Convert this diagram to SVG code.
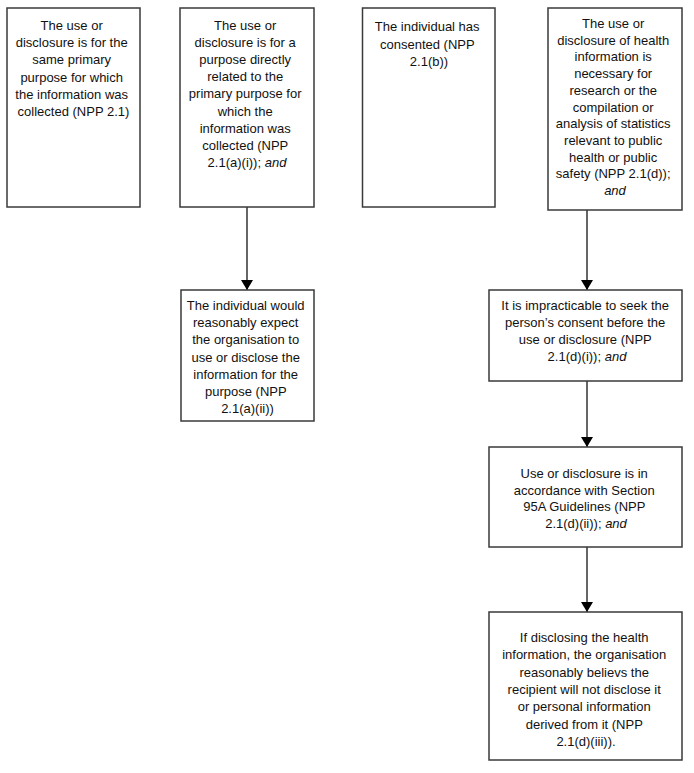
<svg xmlns="http://www.w3.org/2000/svg" width="694" height="773" viewBox="0 0 694 773">
<defs>
<style>
.box{fill:#fff;stroke:#3a3a3a;stroke-width:1.5}
.t{font-family:"Liberation Sans",Arial,sans-serif;font-size:13px;fill:#111;text-anchor:middle}
.i{font-style:italic}
.c{stroke:#666;stroke-width:2;fill:none}
</style>
<marker id="ah" markerWidth="10" markerHeight="12" refX="10" refY="6" orient="auto" markerUnits="userSpaceOnUse" viewBox="0 0 10 12">
<path d="M0,0 L10,6 L0,12 Z" fill="#000"/>
</marker>
</defs>
<rect width="694" height="773" fill="#fff"/>
<g id="connectors">
<line class="c" x1="247" y1="207" x2="247" y2="290" marker-end="url(#ah)"/>
<line class="c" x1="587" y1="210" x2="587" y2="290" marker-end="url(#ah)"/>
<line class="c" x1="587" y1="381" x2="587" y2="447" marker-end="url(#ah)"/>
<line class="c" x1="587" y1="547" x2="587" y2="612" marker-end="url(#ah)"/>
</g>
<g id="n1">
<rect class="box" x="7" y="8" width="133" height="199"/>
<text class="t" x="73.5" y="30">
<tspan x="73.5" dy="0">The use or</tspan>
<tspan x="73.5" dy="17.2">disclosure is for the</tspan>
<tspan x="73.5" dy="17.2">same primary</tspan>
<tspan x="73.5" dy="17.2">purpose for which</tspan>
<tspan x="73.5" dy="17.2">the information was</tspan>
<tspan x="73.5" dy="17.2">collected (NPP 2.1)</tspan>
</text>
</g>
<g id="n2">
<rect class="box" x="180" y="8" width="134" height="199"/>
<text class="t" x="247" y="30">
<tspan x="247" dy="0">The use or</tspan>
<tspan x="247" dy="17.1">disclosure is for a</tspan>
<tspan x="247" dy="17.1">purpose directly</tspan>
<tspan x="247" dy="17.1">related to the</tspan>
<tspan x="247" dy="17.1">primary purpose for</tspan>
<tspan x="247" dy="17.1">which the</tspan>
<tspan x="247" dy="17.1">information was</tspan>
<tspan x="247" dy="17.1">collected (NPP</tspan>
<tspan x="247" dy="17.1">2.1(a)(i)); <tspan class="i">and</tspan></tspan>
</text>
</g>
<g id="n3">
<rect class="box" x="362.5" y="8" width="132.5" height="199"/>
<text class="t" x="429" y="31">
<tspan x="429" dy="0">The individual has</tspan>
<tspan x="429" dy="17.5">consented (NPP</tspan>
<tspan x="429" dy="17.5">2.1(b))</tspan>
</text>
</g>
<g id="n4">
<rect class="box" x="548" y="8" width="134" height="202"/>
<text class="t" x="615" y="28">
<tspan x="615" dy="0">The use or</tspan>
<tspan x="615" dy="16.7">disclosure of health</tspan>
<tspan x="615" dy="16.7">information is</tspan>
<tspan x="615" dy="16.7">necessary for</tspan>
<tspan x="615" dy="16.7">research or the</tspan>
<tspan x="615" dy="16.7">compilation or</tspan>
<tspan x="615" dy="16.7">analysis of statistics</tspan>
<tspan x="615" dy="16.7">relevant to public</tspan>
<tspan x="615" dy="16.7">health or public</tspan>
<tspan x="615" dy="16.7">safety (NPP 2.1(d));</tspan>
<tspan x="615" dy="16.7" class="i">and</tspan>
</text>
</g>
<g id="n5">
<rect class="box" x="181" y="290" width="133" height="131"/>
<text class="t" x="247.5" y="310">
<tspan x="247.5" dy="0">The individual would</tspan>
<tspan x="247.5" dy="17.2">reasonably expect</tspan>
<tspan x="247.5" dy="17.2">the organisation to</tspan>
<tspan x="247.5" dy="17.2">use or disclose the</tspan>
<tspan x="247.5" dy="17.2">information for the</tspan>
<tspan x="247.5" dy="17.2">purpose (NPP</tspan>
<tspan x="247.5" dy="17.2">2.1(a)(ii))</tspan>
</text>
</g>
<g id="n6">
<rect class="box" x="489" y="290" width="193" height="91"/>
<text class="t" x="587" y="310">
<tspan x="587" dy="0">It is impracticable to seek the</tspan>
<tspan x="587" dy="17">person’s consent before the</tspan>
<tspan x="587" dy="17">use or disclosure (NPP</tspan>
<tspan x="587" dy="17">2.1(d)(i)); <tspan class="i">and</tspan></tspan>
</text>
</g>
<g id="n7">
<rect class="box" x="489" y="447" width="193" height="100"/>
<text class="t" x="586" y="478">
<tspan x="586" dy="0">Use or disclosure is in</tspan>
<tspan x="586" dy="16.7">accordance with Section</tspan>
<tspan x="586" dy="16.7">95A Guidelines (NPP</tspan>
<tspan x="586" dy="16.7">2.1(d)(ii)); <tspan class="i">and</tspan></tspan>
</text>
</g>
<g id="n8">
<rect class="box" x="489" y="612" width="193" height="148"/>
<text class="t" x="586" y="642">
<tspan x="586" dy="0">If disclosing the health</tspan>
<tspan x="586" dy="17.3">information, the organisation</tspan>
<tspan x="586" dy="17.3">reasonably believs the</tspan>
<tspan x="586" dy="17.3">recipient will not disclose it</tspan>
<tspan x="586" dy="17.3">or personal information</tspan>
<tspan x="586" dy="17.3">derived from it (NPP</tspan>
<tspan x="586" dy="17.3">2.1(d)(iii)).</tspan>
</text>
</g>
</svg>
